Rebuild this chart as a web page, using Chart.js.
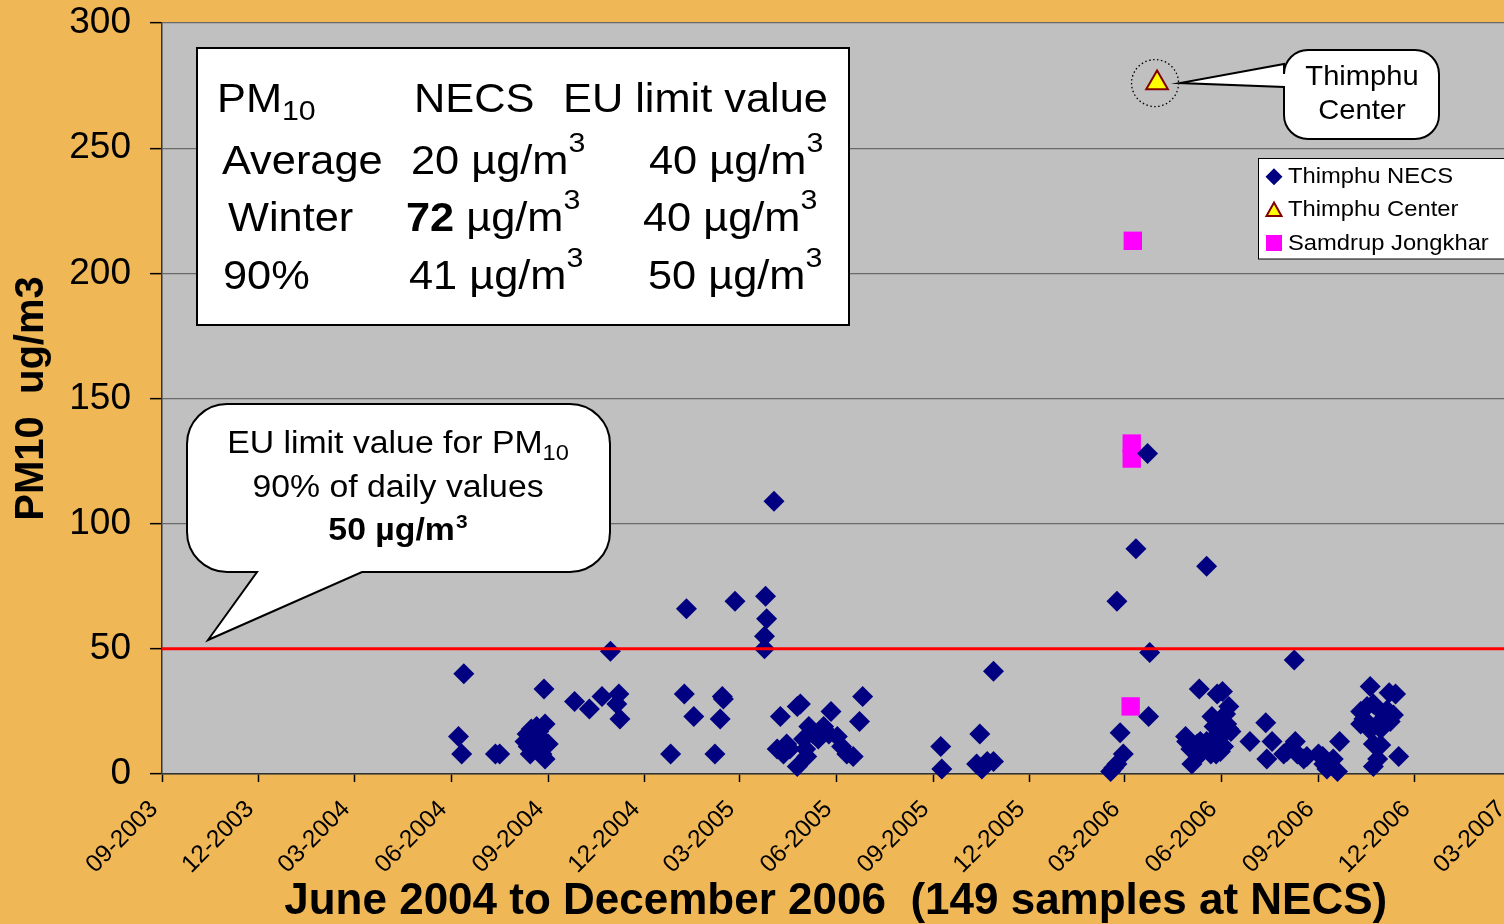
<!DOCTYPE html>
<html><head><meta charset="utf-8">
<script src="https://cdn.jsdelivr.net/npm/chart.js@4.4.1/dist/chart.umd.min.js"></script>
<style>
html,body{margin:0;padding:0;overflow:hidden;background:#F0B757;}
#wrap{position:relative;width:1524px;height:924px;}
#c{position:absolute;left:0;top:0;}
.t{position:absolute;white-space:nowrap;font-family:'Liberation Sans',Arial,sans-serif;line-height:1;color:#000;}
.tsub{font-size:0.7em;position:relative;top:0.3em;}
.tsup{font-size:0.7em;position:relative;top:-0.75em;}
.bsub{font-size:0.7em;position:relative;top:0.32em;}
.bsup{font-size:0.62em;position:relative;top:-0.6em;margin-left:1px;}
</style></head>
<body>
<div id="wrap">
<canvas id="c" width="1524" height="924"></canvas>
<!-- summary table -->
<div class="t" data-x="217" data-b="112" data-s="40.5" data-k="1.07">PM<span class="tsub">10</span></div>
<div class="t" data-x="414" data-b="112" data-s="40.5" data-k="1.07">NECS</div>
<div class="t" data-x="563" data-b="112" data-s="40.5" data-k="1.07">EU limit value</div>
<div class="t" data-x="222" data-b="174" data-s="40.5" data-k="1.07">Average</div>
<div class="t" data-x="411" data-b="174" data-s="40.5" data-k="1.07">20 µg/m<span class="tsup">3</span></div>
<div class="t" data-x="649" data-b="174" data-s="40.5" data-k="1.07">40 µg/m<span class="tsup">3</span></div>
<div class="t" data-x="228" data-b="231" data-s="40.5" data-k="1.07">Winter</div>
<div class="t" data-x="406" data-b="231" data-s="40.5" data-k="1.07"><b>72</b> µg/m<span class="tsup">3</span></div>
<div class="t" data-x="643" data-b="231" data-s="40.5" data-k="1.07">40 µg/m<span class="tsup">3</span></div>
<div class="t" data-x="223" data-b="289" data-s="40.5" data-k="1.07">90%</div>
<div class="t" data-x="409" data-b="289" data-s="40.5" data-k="1.07">41 µg/m<span class="tsup">3</span></div>
<div class="t" data-x="648" data-b="289" data-s="40.5" data-k="1.07">50 µg/m<span class="tsup">3</span></div>
<!-- EU callout -->
<div class="t" data-x="397.5" data-b="453" data-s="31" data-k="1.09" data-a="c">EU limit value for PM<span class="bsub">10</span></div>
<div class="t" data-x="397.5" data-b="497" data-s="31" data-k="1.09" data-a="c">90% of daily values</div>
<div class="t" data-x="397.5" data-b="540" data-s="31" data-k="1.09" data-a="c"><b>50 µg/m<span class="bsup">3</span></b></div>
<!-- Thimphu Center callout -->
<div class="t" data-x="1361.5" data-b="86" data-s="28" data-k="1.04" data-a="c">Thimphu</div>
<div class="t" data-x="1361.5" data-b="120" data-s="28" data-k="1.04" data-a="c">Center</div>
<!-- legend -->
<div class="t" data-x="1288" data-b="183.5" data-s="22" data-k="1.08">Thimphu NECS</div>
<div class="t" data-x="1288" data-b="217" data-s="22" data-k="1.08">Thimphu Center</div>
<div class="t" data-x="1288" data-b="250.5" data-s="22" data-k="1.08">Samdrup Jongkhar</div>
</div>
<script>
// ---------- data ----------
// x values: days since 1 September 2003
const tickLabels = ['09-2003','12-2003','03-2004','06-2004','09-2004','12-2004','03-2005','06-2005','09-2005','12-2005','03-2006','06-2006','09-2006','12-2006','03-2007'];

const necsDay = [281,284,286,316,320,346,350,352,347,355,358,363,366,349,363,362,359,354,391,405,417,425,433,431,434,
  482,497,495,504,524,531,532,529,543,572,573,571,571,580,586,583,592,589,602,605,602,611,613,608,617,627,632,634,640,644,649,655,661,664,595,622,
  738,739,775,772,777,782,788,788,
  899,905,911,908,905,923,934,936,935,902,970,971,976,981,984,983,990,984,990,994,993,995,997,1000,1005,1001,1006,1005,1009,1011,1011,1013,
  1031,1046,1052,1047,1066,1073,1074,1076,1082,1096,1101,1110,1104,1114,1116,1145,1169,1163,1136,1142,1148,1161,1167,1136,1145,1155,1164,1148,1155,1172,1152,1148,1063,975,999,
  344,357,360,987,998,1003,1008,1139,1152,1158,1085,1100,610];
const necsPM = [15,8,40,8,8,16,18,14,11,19,15,20,12,8,6,34,11,10,29,26,31,49,32,28,22,
  8,66,32,23,8,31,30,22,69,71,62,55,50,109,23,10,12,8,27,28,3,7,19,14,16,19,16,25,15,11,8,7,21,31,10,14,
  11,2,16,4,2,5,5,41,
  1,4,8,16.5,69,90,128,48.5,23,2.5,15,13,4,12,8,34,83,13,13,8,11,23,19,32,33,14,11,21,20,18,27,17,
  13,20.5,13,6,9,45.5,13,8,6,8,4,6,2,1,13,35,32,32.5,25,27,28,25.6,23.6,20,17.6,18,21,12,11.6,7,6,3,8,10,8,
  13,17,8,10,15,9,24,22,20,24,7,7,10];

const centerDay = [943];
const centerPM = [276];

const samdrupDay = [920,919,919,918];
const samdrupPM = [213,132,126,27];

const limitPM = 50;

// ---------- helpers ----------
const DAY = 86400000;
const base = Date.UTC(2003, 8, 1);
const tickDays = tickLabels.map(s => {
  const [m, y] = s.split('-').map(Number);
  return Math.round((Date.UTC(y, m - 1, 1) - base) / DAY);
});
const xMax = tickDays[tickDays.length - 1];
const pts = (xs, ys) => xs.map((x, i) => ({x: x, y: ys[i]}));
const FONT = "'Liberation Sans', Arial, sans-serif";

// place overlay texts
document.querySelectorAll('.t').forEach(el => {
  const s = +el.dataset.s, k = +(el.dataset.k || 1), x = +el.dataset.x, b = +el.dataset.b;
  el.style.fontSize = s + 'px';
  el.style.top = (b - 0.8465 * s) + 'px';
  el.style.left = x + 'px';
  if (el.dataset.a === 'c') { el.style.transform = 'translateX(-50%) scaleX(' + k + ')'; el.style.transformOrigin = '50% 50%'; }
  else { el.style.transform = 'scaleX(' + k + ')'; el.style.transformOrigin = '0 50%'; }
});

const decor = {
  id: 'decor',
  beforeDraw(chart) {
    const {ctx, chartArea: a} = chart;
    ctx.save();
    ctx.fillStyle = '#C0C0C0';
    ctx.fillRect(a.left, a.top, a.right - a.left, a.bottom - a.top);
    ctx.restore();
  },
  afterDatasetsDraw(chart) {
    const ctx = chart.ctx;
    const p = chart.getDatasetMeta(2).data[0];
    ctx.save();
    ctx.strokeStyle = '#000';
    ctx.lineWidth = 1.3;
    ctx.setLineDash([1.5, 2.5]);
    ctx.beginPath();
    ctx.arc(p.x - 2, p.y, 23.5, 0, Math.PI * 2);
    ctx.stroke();
    ctx.restore();
  },
  afterDraw(chart) {
    const ctx = chart.ctx;
    ctx.save();
    ctx.lineJoin = 'miter';
    // summary table box
    ctx.fillStyle = '#fff'; ctx.strokeStyle = '#000'; ctx.lineWidth = 2;
    ctx.fillRect(197, 48, 652, 277); ctx.strokeRect(197, 48, 652, 277);

    // EU callout
    let x0 = 187, y0 = 404, x1 = 610, y1 = 572, r = 40;
    ctx.beginPath();
    ctx.moveTo(x0 + r, y0);
    ctx.lineTo(x1 - r, y0);
    ctx.arcTo(x1, y0, x1, y0 + r, r);
    ctx.lineTo(x1, y1 - r);
    ctx.arcTo(x1, y1, x1 - r, y1, r);
    ctx.lineTo(362, y1);
    ctx.lineTo(208, 640);
    ctx.lineTo(257, y1);
    ctx.lineTo(x0 + r, y1);
    ctx.arcTo(x0, y1, x0, y1 - r, r);
    ctx.lineTo(x0, y0 + r);
    ctx.arcTo(x0, y0, x0 + r, y0, r);
    ctx.closePath();
    ctx.fill(); ctx.stroke();

    // Thimphu Center callout
    x0 = 1284; y0 = 50; x1 = 1439; y1 = 139; r = 24;
    ctx.beginPath();
    ctx.moveTo(x0 + r, y0);
    ctx.lineTo(x1 - r, y0);
    ctx.arcTo(x1, y0, x1, y0 + r, r);
    ctx.lineTo(x1, y1 - r);
    ctx.arcTo(x1, y1, x1 - r, y1, r);
    ctx.lineTo(x0 + r, y1);
    ctx.arcTo(x0, y1, x0, y1 - r, r);
    ctx.lineTo(x0, 87);
    ctx.lineTo(1180, 83);
    ctx.lineTo(x0, 64);
    ctx.lineTo(x0, y0 + r);
    ctx.arcTo(x0, y0, x0 + r, y0, r);
    ctx.closePath();
    ctx.fill(); ctx.stroke();

    // legend box
    ctx.lineWidth = 1;
    ctx.fillRect(1258.5, 158.5, 260, 100.5);
    ctx.strokeRect(1258.5, 158.5, 260, 100.5);
    // legend markers
    ctx.fillStyle = '#000080';
    ctx.beginPath();
    ctx.moveTo(1274, 168.2); ctx.lineTo(1282.5, 176.7); ctx.lineTo(1274, 185.2); ctx.lineTo(1265.5, 176.7);
    ctx.closePath(); ctx.fill();
    ctx.fillStyle = '#FFFF00'; ctx.strokeStyle = '#800000'; ctx.lineWidth = 2;
    ctx.beginPath();
    ctx.moveTo(1274, 202.5); ctx.lineTo(1281.5, 216); ctx.lineTo(1266.5, 216);
    ctx.closePath(); ctx.fill(); ctx.stroke();
    ctx.fillStyle = '#FF00FF';
    ctx.fillRect(1266, 235, 16, 16);
    ctx.restore();
  }
};

new Chart(document.getElementById('c'), {
  type: 'scatter',
  data: {
    datasets: [
      {
        label: 'EU limit value', type: 'line',
        data: [{x: 0, y: limitPM}, {x: xMax, y: limitPM}],
        borderColor: '#FF0000', borderWidth: 3, pointRadius: 0, fill: false
      },
      {
        label: 'Thimphu NECS', data: pts(necsDay, necsPM),
        pointStyle: 'rectRot', pointRadius: 10.5, backgroundColor: '#000080', borderColor: '#000080', borderWidth: 0, clip: false
      },
      {
        label: 'Thimphu Center', data: pts(centerDay, centerPM),
        pointStyle: 'triangle', pointRadius: 12.5, backgroundColor: '#FFFF00', borderColor: '#800000', borderWidth: 2, clip: false
      },
      {
        label: 'Samdrup Jongkhar', data: pts(samdrupDay, samdrupPM),
        pointStyle: 'rect', pointRadius: 13, backgroundColor: '#FF00FF', borderWidth: 0, clip: false
      }
    ]
  },
  options: {
    responsive: false, animation: false, devicePixelRatio: 1,
    layout: {padding: {left: 0, top: 23, right: 3, bottom: 0}},
    plugins: {legend: {display: false}, tooltip: {enabled: false}},
    scales: {
      x: {
        type: 'linear', min: 0, max: xMax,
        afterBuildTicks: s => { s.ticks = tickDays.map(v => ({value: v})); },
        afterFit: s => { s.height = 150; s.paddingLeft = 0; s.paddingRight = 0; },
        ticks: {
          autoSkip: false, minRotation: 45, maxRotation: 45, color: '#000', padding: 13, labelOffset: -8,
          font: {family: FONT, size: 24.5},
          callback: (v, i) => tickLabels[i]
        },
        grid: {drawOnChartArea: false, drawTicks: true, tickLength: 8, tickColor: '#000', tickWidth: 1.5},
        border: {display: true, color: '#333', width: 1.5},
        title: {
          display: true, text: 'June 2004 to December 2006  (149 samples at NECS)', color: '#000',
          font: {family: FONT, size: 44, weight: 'bold', lineHeight: 1}, padding: {top: 0, bottom: 0}
        }
      },
      y: {
        min: 0, max: 300,
        afterFit: s => { s.width = 162; s.paddingTop = 0; s.paddingBottom = 0; },
        ticks: {stepSize: 50, color: '#000', padding: 19, font: {family: FONT, size: 37}},
        grid: {color: '#6a6a6a', lineWidth: 1.3, drawTicks: true, tickLength: 12, tickColor: '#000', tickWidth: 1.5},
        border: {display: true, color: '#333', width: 1.5},
        title: {
          display: true, text: 'PM10  ug/m3', color: '#000',
          font: {family: FONT, size: 40, weight: 'bold', lineHeight: 1}, padding: {top: 12, bottom: 0}
        }
      }
    }
  },
  plugins: [decor]
});
</script>
</body></html>
